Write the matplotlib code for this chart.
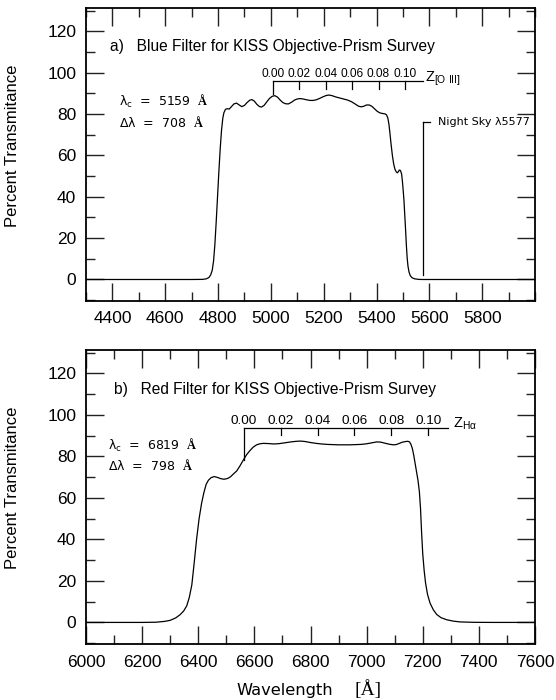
import matplotlib
matplotlib.use("Agg")
import matplotlib.pyplot as plt
from matplotlib.ticker import FixedLocator, MultipleLocator

plt.rcParams['mathtext.fontset'] = 'custom'
plt.rcParams['mathtext.rm'] = 'DejaVu Sans'
plt.rcParams['mathtext.it'] = 'DejaVu Sans:italic'
plt.rcParams['mathtext.bf'] = 'Liberation Serif:bold'

# ---------------- data ----------------
# Blue filter transmission (wavelength [A], percent)
blue_wl = [4300, 4700, 4740, 4755, 4765, 4772, 4778, 4783, 4788, 4793, 4798, 4803,
           4808, 4813, 4818, 4822, 4828, 4835, 4842, 4850, 4860, 4870, 4880, 4890,
           4900, 4910, 4920, 4928, 4937, 4947, 4957, 4965, 4975, 4985, 4995, 5005,
           5015, 5025, 5035, 5045, 5055, 5066, 5078, 5090, 5100, 5110, 5122, 5135,
           5148, 5160, 5172, 5185, 5198, 5210, 5220, 5232, 5245, 5260, 5275, 5290,
           5305, 5320, 5332, 5342, 5352, 5362, 5372, 5382, 5392, 5402, 5412, 5422,
           5432, 5438, 5443, 5447, 5451, 5455, 5460, 5465, 5470, 5475, 5479, 5483,
           5486, 5489, 5492, 5495, 5498, 5501, 5504, 5507, 5510, 5513, 5516, 5519,
           5523, 5528, 5535, 5545, 5560, 5575, 6000]
blue_T = [0, 0, 0.05, 0.3, 0.9, 2.2, 4.5, 9, 17, 28, 40, 52,
          63, 72, 78, 80.6, 82.3, 82.6, 82.4, 83.5, 84.9, 85.3, 84.4, 83.6,
          84.2, 85.6, 86.7, 87.0, 86.3, 84.7, 83.6, 83.4, 84.3, 86.0, 87.6, 88.6,
          88.9, 88.2, 86.8, 85.6, 85.0, 84.9, 85.7, 86.8, 87.3, 87.5, 87.3, 86.9,
          86.6, 86.6, 86.9, 87.6, 88.4, 89.0, 89.2, 88.9, 88.3, 87.8, 87.3, 86.8,
          86.0, 84.8, 83.8, 83.5, 83.8, 84.4, 84.4, 83.8, 82.6, 81.4, 80.6, 80.3,
          80.1, 79.6, 78.0, 75.0, 70.5, 65.5, 60.0, 55.8, 53.2, 52.0, 51.6, 52.2,
          52.9, 52.9, 52.2, 51.0, 47.5, 43, 38, 31, 24, 16.5, 10.5, 6.5,
          3.6, 1.8, 0.8, 0.3, 0.05, 0, 0]

# Red filter transmission
red_wl = [6000, 6200, 6250, 6280, 6300, 6320, 6335, 6348, 6359, 6368, 6377, 6385,
          6394, 6403, 6412, 6420, 6428, 6436, 6446, 6457, 6468, 6480, 6492, 6505,
          6515, 6525, 6537, 6548, 6560, 6572, 6584, 6596, 6608, 6620, 6632, 6650,
          6670, 6690, 6710, 6730, 6750, 6765, 6780, 6800, 6820, 6840, 6860, 6880,
          6900, 6920, 6940, 6960, 6980, 7000, 7020, 7036, 7050, 7065, 7080, 7095,
          7105, 7115, 7128, 7140, 7147, 7153, 7158, 7163, 7168, 7173, 7178, 7183,
          7188, 7192, 7196, 7200, 7205, 7210, 7217, 7226, 7238, 7250, 7265, 7285,
          7310, 7333, 7380, 7450, 7600]
red_T = [0, 0, 0.1, 0.5, 1.0, 2.2, 3.7, 5.5, 8, 12, 18, 28,
         40, 50, 57.5, 62.5, 66.5, 68.5, 69.8, 70.3, 69.9, 69.3, 69.0, 69.4,
         70.2, 71.5, 73.0, 75.3, 78.1, 80.8, 82.8, 84.5, 85.6, 86.1, 86.3, 86.2,
         86.0, 86.2, 86.6, 87.0, 87.3, 87.4, 87.2, 86.7, 86.3, 86.0, 85.8, 85.7,
         85.6, 85.6, 85.6, 85.7, 85.8, 86.1, 86.6, 87.0, 86.9, 86.4, 85.9, 85.6,
         85.7, 86.2, 86.9, 87.2, 87.3, 87.0, 85.8, 83.8, 80.5, 76.5, 72.5, 68.5,
         63, 55, 43, 33, 25, 19, 13.5, 9.3, 6.0, 3.8, 2.3, 1.3,
         0.6, 0.25, 0.05, 0, 0]

xticks_a = [4400, 4600, 4800, 5000, 5200, 5400, 5600, 5800]
xticks_b = [6000, 6200, 6400, 6600, 6800, 7000, 7200, 7400, 7600]
yticks = [0, 20, 40, 60, 80, 100, 120]

z_ticks = [0.00, 0.02, 0.04, 0.06, 0.08, 0.10]
z_labels = ["0.00", "0.02", "0.04", "0.06", "0.08", "0.10"]
oiii_rest = 5007.0
ha_rest = 6563.0
night_sky = 5577.0

title_a = "a)   Blue Filter for KISS Objective-Prism Survey"
title_b = "b)   Red Filter for KISS Objective-Prism Survey"
lamc_a, dlam_a = 5159, 708
lamc_b, dlam_b = 6819, 798

# ---------------- figure ----------------
W, H = 556, 700
fig = plt.figure(figsize=(W / 100, H / 100), dpi=100)
axA = fig.add_axes([86 / W, 1 - 301 / H, 449 / W, 293 / H])
axB = fig.add_axes([86 / W, 1 - 644 / H, 449 / W, 294 / H])

sans = 'Liberation Sans'
hers = 'DejaVu Sans'


def style(ax, xlim, xticks, xpad):
    ax.set_xlim(*xlim)
    ax.set_ylim(-10.4, 131.3)
    ax.xaxis.set_major_locator(FixedLocator(xticks))
    ax.xaxis.set_minor_locator(MultipleLocator(100))
    ax.yaxis.set_major_locator(FixedLocator(yticks))
    ax.yaxis.set_minor_locator(MultipleLocator(10))
    ax.tick_params(which='both', direction='in', top=True, right=True,
                   width=1.0, color='#222222')
    ax.tick_params(which='major', length=13)
    ax.tick_params(which='minor', length=6.5)
    ax.tick_params(axis='x', pad=xpad)
    ax.tick_params(axis='y', pad=7)
    for lab in ax.get_xticklabels() + ax.get_yticklabels():
        lab.set_fontfamily(sans)
        lab.set_fontsize(12.5)
    for sp in ax.spines.values():
        sp.set_linewidth(1.3)
    ax.set_ylabel("Percent Transmitance", fontfamily=sans, fontsize=12)
    ax.yaxis.set_label_coords(-0.148, 0.53)


style(axA, (4300, 6000), xticks_a, 7)
style(axB, (6000, 7600), xticks_b, 8)

lc = 'black'
axA.plot(blue_wl, blue_T, color=lc, lw=0.9)
axB.plot(red_wl, red_T, color=lc, lw=0.9)

# titles inside panels
axA.text(4391, 112.7, title_a, fontfamily=sans, fontsize=11.2, va='center', ha='left')
axB.text(6101, 112.3, title_b, fontfamily=sans, fontsize=11.2, va='center', ha='left')

# lambda_c / delta lambda
def lam_text(ax, x, y1, y2, lc_, dl_):
    ax.text(x, y1, r'$\mathregular{\lambda_c}$  =  %d  $\mathbf{\AA}$' % lc_,
            fontfamily=hers, fontsize=9, va='center', ha='left')
    ax.text(x, y2, r'$\mathregular{\Delta\lambda}$  =  %d  $\mathbf{\AA}$' % dl_,
            fontfamily=hers, fontsize=9, va='center', ha='left')


lam_text(axA, 4425, 86.2, 75.8, lamc_a, dlam_a)
lam_text(axB, 6079, 85.5, 75.4, lamc_b, dlam_b)


# redshift scales
def zscale(ax, rest, yline, tick_len, zero_bottom, x_end, lab_y, lab_fs, zlabel, zx, zy):
    xs = [rest * (1 + z) for z in z_ticks]
    ax.plot([xs[0], x_end], [yline, yline], color=lc, lw=0.9)
    for i, (x, lab) in enumerate(zip(xs, z_labels)):
        ybot = zero_bottom if i == 0 else yline - tick_len
        ax.plot([x, x], [yline, ybot], color=lc, lw=0.9)
        ax.text(x, lab_y, lab, fontfamily=sans, fontsize=lab_fs, ha='center', va='center')
    ax.text(zx, zy, zlabel, fontfamily=sans, fontsize=10.5, ha='left', va='center')


zscale(axA, oiii_rest, 95.9, 3.7, 89.7, 5577, 99.6, 8.6,
       r'$\mathregular{Z_{[O\ III]}}$', 5584, 97.0)
zscale(axB, ha_rest, 93.5, 3.2, 78.3, 7291, 97.0, 9.7,
       r'$\mathregular{Z_{H\alpha}}$', 7307, 95.5)

# night sky line
axA.plot([night_sky, night_sky], [2.0, 76.0], color=lc, lw=0.9)
axA.plot([night_sky, 5602], [76.0, 76.0], color=lc, lw=0.9)
axA.text(5633, 76.0, "Night Sky λ5577", fontfamily=hers, fontsize=8,
         ha='left', va='center')

# x label
fig.text(236.7 / W, 1 - 695 / H, "Wavelength", fontfamily=hers, fontsize=11.7,
         ha='left', va='baseline')
fig.text(355 / W, 1 - 695 / H, "[Å]", fontfamily='Liberation Serif', fontsize=14,
         ha='left', va='baseline')

fig.savefig("out.png", dpi=100)
